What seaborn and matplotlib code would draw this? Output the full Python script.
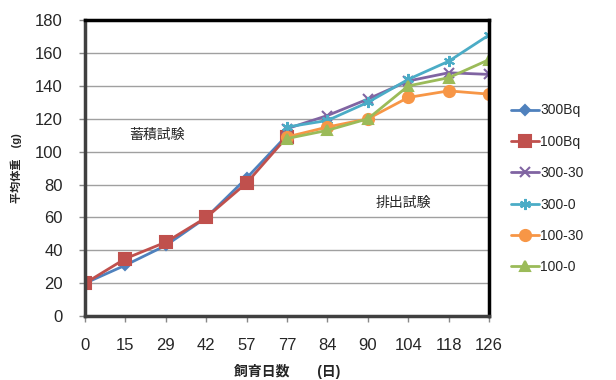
import numpy as np
import pandas as pd
import matplotlib
matplotlib.use('Agg')
import matplotlib.pyplot as plt
import seaborn as sns

# 飼育日数 (categorical x axis)
days = ['0', '15', '29', '42', '57', '77', '84', '90', '104', '118', '126']

# accumulation phase (0 - 77 days)
w_300bq = [20, 31, 43, 60, 84, 110]
w_100bq = [20, 35, 45, 60, 81, 109]

# excretion phase (77 - 126 days)
w_300_30 = [114, 122, 132, 143, 148, 147]
w_300_0 = [115, 119, 130, 144, 155, 171]
w_100_30 = [109, 115, 120, 133, 137, 135]
w_100_0 = [108, 113, 120, 140, 145, 156]

series_names = ['300Bq', '100Bq', '300-30', '300-0', '100-30', '100-0']


def main():
    sns.set_theme(style='white')
    plt.rcParams['font.family'] = ['Liberation Sans', 'Noto Sans CJK JP', 'DejaVu Sans']

    pos = np.arange(len(days))
    values = [w_300bq, w_100bq, w_300_30, w_300_0, w_100_30, w_100_0]
    starts = [0, 0, 5, 5, 5, 5]
    colors = ['#4F81BD', '#C0504D', '#8064A2', '#4BACC6', '#F79646', '#9BBB59']
    markers = ['D', 's', 'x', (6, 2, 0), 'o', '^']
    msizes = [5, 8, 7, 8, 8, 7]

    fig = plt.figure(figsize=(6.16, 3.8), dpi=100)
    ax = fig.add_axes([0.138, 0.168, 0.656, 0.779])

    for name, vals, s, c, m, ms in zip(series_names, values, starts, colors, markers, msizes):
        df = pd.DataFrame({'day': pos[s:s + len(vals)], 'weight': vals})
        sns.lineplot(data=df, x='day', y='weight', ax=ax, color=c, marker=m,
                     markersize=ms, markeredgecolor=c, markeredgewidth=1.5,
                     linewidth=2, label=name)

    ax.set_xlim(0, len(days) - 1)
    ax.set_ylim(0, 180)
    ax.set_xticks(pos)
    ax.set_xticklabels(days)
    ax.set_yticks(np.arange(0, 181, 20))
    ax.tick_params(axis='both', labelsize=12, length=4, width=1, color='#888888',
                   direction='out', bottom=True, left=True)
    ax.tick_params(axis='x', pad=12)
    ax.tick_params(axis='y', pad=12)
    ax.yaxis.grid(True, color='#A0A0A0', linewidth=1)
    ax.xaxis.grid(False)
    ax.set_axisbelow(True)

    for side in ['top', 'right']:
        ax.spines[side].set_color('black')
        ax.spines[side].set_linewidth(2.5)
    for side in ['left', 'bottom']:
        ax.spines[side].set_color('#404040')
        ax.spines[side].set_linewidth(2.5)

    ax.set_xlabel('飼育日数　　(日)', fontsize=10, fontweight='bold', labelpad=8)
    ax.set_ylabel('平均体重　(g)', fontsize=8, fontweight='bold', labelpad=9)

    ax.text(1.78, 110, '蓄積試験', fontsize=10, ha='center', va='center')
    ax.text(7.87, 69, '排出試験', fontsize=10, ha='center', va='center')

    ax.legend(loc='center left', bbox_to_anchor=(1.04, 0.43), frameon=False,
              fontsize=10, handlelength=2.0, handletextpad=0.1, labelspacing=1.25,
              borderaxespad=0)

    fig.savefig('out.png', dpi=100)


if __name__ == '__main__':
    main()
